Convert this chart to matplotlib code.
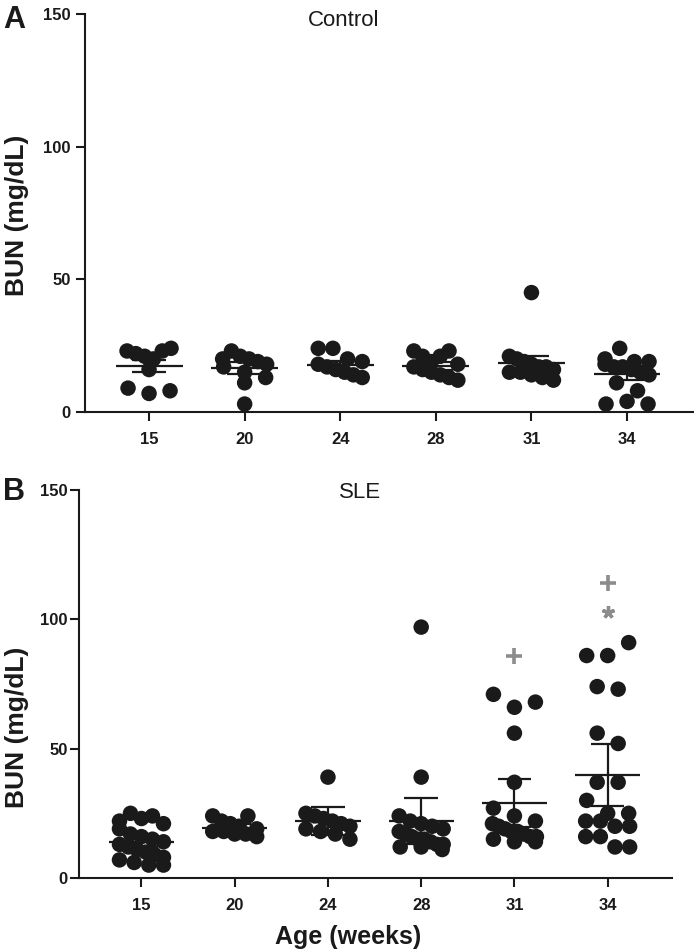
import matplotlib
matplotlib.use("Agg")
import matplotlib.pyplot as plt
import numpy as np

plt.rcParams["font.family"] = ["Liberation Sans", "DejaVu Sans"]

ages = [15, 20, 24, 28, 31, 34]

# BUN values (mg/dL) (roughly left-to-right within rows)
control = [
    [23, 22, 21, 20, 23, 24, 16, 9, 7, 8],
    [20, 23, 21, 20, 19, 18, 17, 15, 13, 11, 3],
    [24, 24, 20, 19, 18, 17, 16, 15, 14, 13],
    [23, 21, 19, 21, 23, 18, 17, 16, 15, 14, 13, 12],
    [45, 21, 20, 19, 18, 17, 17, 16, 15, 15, 14, 13, 12],
    [20, 24, 19, 19, 18, 17, 17, 16, 15, 14, 11, 3, 4, 3, 8],
]
sle = [
    [22, 25, 23, 24, 21, 19, 17, 16, 15, 14, 13, 12, 11, 10, 9, 8, 7, 6, 5, 5],
    [24, 22, 21, 20, 24, 19, 18, 18, 17, 17, 16],
    [39, 25, 24, 23, 22, 21, 20, 19, 18, 17, 15],
    [97, 39, 24, 22, 21, 20, 19, 18, 17, 16, 15, 15, 14, 13, 13, 12, 12, 11],
    [71, 66, 68, 56, 37, 27, 24, 22, 21, 20, 19, 18, 18, 17, 16, 16, 15, 14, 14],
    [86, 86, 91, 74, 73, 56, 52, 37, 30, 37, 25, 25, 22, 22, 20, 20, 16, 16, 12, 12],
]
control_mean = [17.3, 16.6, 17.7, 17.3, 18.5, 14.3]
control_err = [2.3, 2.4, 1.6, 1.5, 2.5, 2.4]
sle_mean = [13.9, 19.3, 22.0, 22.0, 29.0, 39.8]
sle_err = [2.0, 1.5, 5.4, 8.9, 9.3, 12.0]

# significance marks on SLE panel: (group index, y)
plus_marks = [(4, 86), (5, 114)]
star_marks = [(5, 103)]

W, H = 694, 951
DOT = 15.5  # dot diameter in px


def swarm(vals, px_x, px_y, bin_h=14, step=21, maxw=44):
    # GraphPad-like scatter: points whose values fall in the same band
    # are spread side by side, keeping the data order within a band
    n = len(vals)
    order = sorted(range(n), key=lambda i: -vals[i])
    bins, cur = [], [order[0]]
    for i in order[1:]:
        if (vals[cur[0]] - vals[i]) * px_y < bin_h:
            cur.append(i)
        else:
            bins.append(cur)
            cur = [i]
    bins.append(cur)
    offs = np.zeros(n)
    for b in bins:
        b = sorted(b)
        m = len(b)
        sp = step if m < 2 else min(step, maxw / (m - 1))
        for k, i in enumerate(b):
            offs[i] = (k - (m - 1) / 2) * sp / px_x
    return offs


def panel(ax, groups, means, errs, px_x, px_y):
    x = np.arange(len(ages))
    for i, vals in enumerate(groups):
        vals = np.array(vals, float)
        off = swarm(vals, px_x, px_y)
        ax.scatter(x[i] + off, vals, s=(DOT * 0.72) ** 2, color="#1a1a1a",
                   edgecolors="none", zorder=3, clip_on=False)
    ax.hlines(means, x - 0.35, x + 0.35, color="#1a1a1a", lw=1.6, zorder=4)
    lo = np.array(means) - np.array(errs)
    hi = np.array(means) + np.array(errs)
    ax.vlines(x, lo, hi, color="#1a1a1a", lw=1.6, zorder=4)
    ax.hlines(lo, x - 0.18, x + 0.18, color="#1a1a1a", lw=1.6, zorder=4)
    ax.hlines(hi, x - 0.18, x + 0.18, color="#1a1a1a", lw=1.6, zorder=4)

    ax.set_xlim(-0.67, 5.69)
    ax.set_ylim(0, 150)
    ax.set_xticks(x)
    ax.set_xticklabels([str(a) for a in ages])
    ax.set_yticks([0, 50, 100, 150])
    for s in ["top", "right"]:
        ax.spines[s].set_visible(False)
    for s in ["left", "bottom"]:
        ax.spines[s].set_linewidth(1.5)
        ax.spines[s].set_color("#1a1a1a")
    ax.tick_params(width=1.5, length=6.5, color="#1a1a1a", labelsize=12)
    ax.tick_params(axis="x", pad=8)
    for lab in ax.get_xticklabels() + ax.get_yticklabels():
        lab.set_fontweight("bold")
        lab.set_color("#1a1a1a")


fig = plt.figure(figsize=(W / 100, H / 100), dpi=100)

axA = fig.add_axes([85 / W, 1 - 412 / H, 608 / W, 398 / H])
panel(axA, control, control_mean, control_err, 95.6, 398 / 150)
axA.tick_params(axis="y", pad=4)

axB = fig.add_axes([79 / W, 1 - 878 / H, 593 / W, 388 / H])
panel(axB, sle, sle_mean, sle_err, 93.3, 388 / 150)
axB.tick_params(axis="y", pad=1.5)

for gi, yv in plus_marks:
    axB.plot(gi, yv, marker="+", ms=11, mew=2.6, color="#8c8c8c", zorder=5)
for gi, yv in star_marks:
    axB.plot(gi, yv, marker=(5, 2, 0), ms=9, mew=2.4, color="#8c8c8c", zorder=5)

fig.text(344 / W, 1 - 21 / H, "Control", ha="center", va="center", fontsize=16,
         color="#1a1a1a")
fig.text(360 / W, 1 - 492 / H, "SLE", ha="center", va="center", fontsize=16,
         color="#1a1a1a")
fig.text(14 / W, 1 - 20 / H, "A", ha="center", va="center", fontsize=22,
         fontweight="bold", color="#1a1a1a")
fig.text(14 / W, 1 - 492 / H, "B", ha="center", va="center", fontsize=22,
         fontweight="bold", color="#1a1a1a")
fig.text(17 / W, 1 - 215 / H, "BUN (mg/dL)", rotation=90, ha="center",
         va="center", fontsize=19, fontweight="bold", color="#1a1a1a")
fig.text(17 / W, 1 - 727 / H, "BUN (mg/dL)", rotation=90, ha="center",
         va="center", fontsize=19, fontweight="bold", color="#1a1a1a")
fig.text(348 / W, 1 - 937 / H, "Age (weeks)", ha="center", va="center",
         fontsize=18, fontweight="bold", color="#1a1a1a")

fig.savefig("out.png", dpi=100)
